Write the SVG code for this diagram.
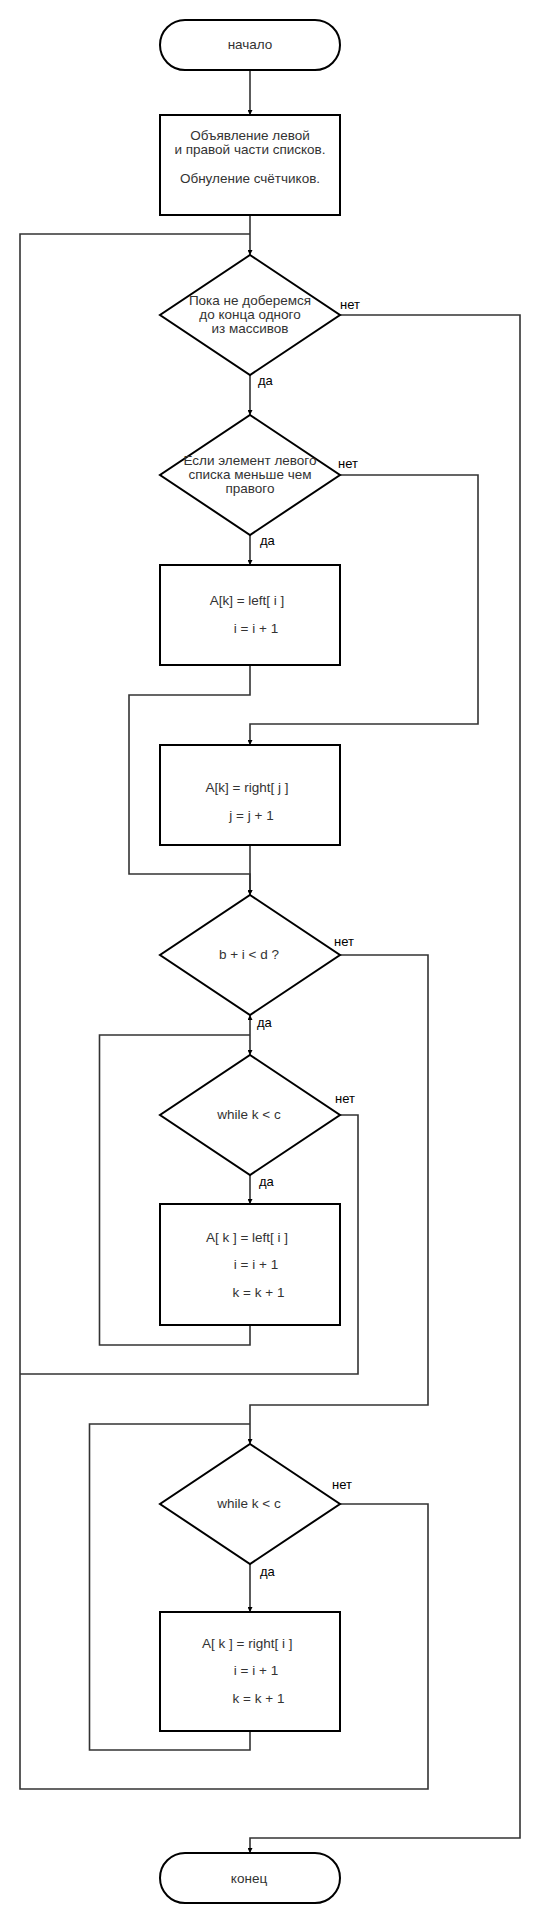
<svg xmlns="http://www.w3.org/2000/svg" width="540" height="1930" viewBox="0 0 540 1930">
<style>
.node{fill:#fff;stroke:#000;stroke-width:2}
.t{font-family:"Liberation Sans",Arial,sans-serif;font-size:13.5px;fill:#333;text-anchor:middle}
.lbl{font-family:"Liberation Sans",Arial,sans-serif;font-size:13px;fill:#000}
.c{fill:none;stroke:#333;stroke-width:1.6}
</style>
<defs>
<marker id="arr" viewBox="0 0 6 6" refX="6" refY="3" markerWidth="5" markerHeight="5" orient="auto-start-reverse" markerUnits="userSpaceOnUse"><path d="M0,0 L6,3 L0,6 z" fill="#000"/></marker>
</defs>
<rect width="540" height="1930" fill="#fff"/>
<g id="connectors">
<path class="c" d="M250 70 V115" marker-end="url(#arr)"/>
<path class="c" d="M250 215 V255" marker-end="url(#arr)"/>
<path class="c" d="M250 375 V415" marker-end="url(#arr)"/>
<path class="c" d="M340 315 H520 V1838 H250 V1853" marker-end="url(#arr)"/>
<path class="c" d="M250 535 V565" marker-end="url(#arr)"/>
<path class="c" d="M340 475 H478 V724 H250 V745" marker-end="url(#arr)"/>
<path class="c" d="M250 665 V695 H129 V874 H250 V895" marker-end="url(#arr)"/>
<path class="c" d="M250 845 V895" marker-end="url(#arr)"/>
<path class="c" d="M250 1015 V1055" marker-start="url(#arr)" marker-end="url(#arr)"/>
<path class="c" d="M250 1175 V1204" marker-end="url(#arr)"/>
<path class="c" d="M250 1325 V1345 H99.5 V1035 H250"/>
<path class="c" d="M340 1115 H358 V1374 H20"/>
<path class="c" d="M340 955 H428 V1405 H250 V1444" marker-end="url(#arr)"/>
<path class="c" d="M250 1564 V1612" marker-end="url(#arr)"/>
<path class="c" d="M250 1731 V1750 H89.5 V1424 H250"/>
<path class="c" d="M340 1504 H428 V1789 H20 V234 H250"/>
</g>
<g id="labels">
<text class="lbl" x="340" y="309">нет</text>
<text class="lbl" x="258" y="385">да</text>
<text class="lbl" x="338" y="468">нет</text>
<text class="lbl" x="260" y="545">да</text>
<text class="lbl" x="334" y="946">нет</text>
<text class="lbl" x="257" y="1027">да</text>
<text class="lbl" x="335" y="1103">нет</text>
<text class="lbl" x="259" y="1186">да</text>
<text class="lbl" x="332" y="1489">нет</text>
<text class="lbl" x="260" y="1576">да</text>
</g>
<g id="start">
<rect class="node" x="160" y="20" width="180" height="50" rx="25" ry="25"/>
<text class="t" x="250" y="49">начало</text>
</g>
<g id="init">
<rect class="node" x="160" y="115" width="180" height="100"/>
<text class="t" x="250" y="140">Объявление левой</text>
<text class="t" x="250" y="154">и правой части списков.</text>
<text class="t" x="250" y="183">Обнуление счётчиков.</text>
</g>
<g id="d1">
<polygon class="node" points="250,255 340,315 250,375 160,315"/>
<text class="t" x="250" y="305">Пока не доберемся</text>
<text class="t" x="250" y="319">до конца одного</text>
<text class="t" x="250" y="333">из массивов</text>
</g>
<g id="d2">
<polygon class="node" points="250,415 340,475 250,535 160,475"/>
<text class="t" x="250" y="465">Если элемент левого</text>
<text class="t" x="250" y="479">списка меньше чем</text>
<text class="t" x="250" y="493">правого</text>
</g>
<g id="box1">
<rect class="node" x="160" y="565" width="180" height="100"/>
<text class="t" x="247" y="605">A[k] = left[ i ]</text>
<text class="t" x="256" y="633">i = i + 1</text>
</g>
<g id="box2">
<rect class="node" x="160" y="745" width="180" height="100"/>
<text class="t" x="247" y="792">A[k] = right[ j ]</text>
<text class="t" x="251.5" y="820">j = j + 1</text>
</g>
<g id="d3">
<polygon class="node" points="250,895 340,955 250,1015 160,955"/>
<text class="t" x="249" y="959">b + i &lt; d ?</text>
</g>
<g id="d4">
<polygon class="node" points="250,1055 340,1115 250,1175 160,1115"/>
<text class="t" x="249" y="1119">while k &lt; c</text>
</g>
<g id="box3">
<rect class="node" x="160" y="1204" width="180" height="121"/>
<text class="t" x="247" y="1242">A[ k ] = left[ i ]</text>
<text class="t" x="256" y="1269">i = i + 1</text>
<text class="t" x="258.5" y="1297">k = k + 1</text>
</g>
<g id="d5">
<polygon class="node" points="250,1444 340,1504 250,1564 160,1504"/>
<text class="t" x="249" y="1508">while k &lt; c</text>
</g>
<g id="box4">
<rect class="node" x="160" y="1612" width="180" height="119"/>
<text class="t" x="247.3" y="1648">A[ k ] = right[ i ]</text>
<text class="t" x="256" y="1675">i = i + 1</text>
<text class="t" x="258.5" y="1703">k = k + 1</text>
</g>
<g id="end">
<rect class="node" x="160" y="1853" width="180" height="50" rx="25" ry="25"/>
<text class="t" x="249" y="1883">конец</text>
</g>
</svg>
